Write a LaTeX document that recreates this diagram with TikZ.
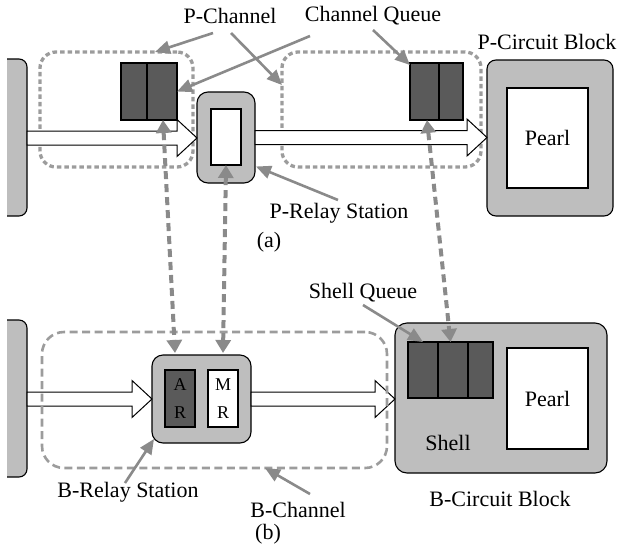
\documentclass[tikz,border=0pt]{standalone}
\usepackage{fontspec}
\setmainfont{Liberation Serif}
\usetikzlibrary{arrows.meta,calc}
\definecolor{blockgray}{HTML}{BEBEBE}
\definecolor{queuedark}{HTML}{5A5A5A}
\definecolor{dashgray}{HTML}{9C9C9C}
\definecolor{arrowgray}{HTML}{8A8A8A}

% hollow block arrow between two points at the height of the first one
\newcommand\fatarrow[2]{%
  \draw[fat] let \p1=(#1), \p2=(#2) in
    (\x1,\y1+7pt) -- (\x2-20pt,\y1+7pt) -- (\x2-20pt,\y1+18.5pt) -- (\x2,\y1)
    -- (\x2-20pt,\y1-18.5pt) -- (\x2-20pt,\y1-7pt) -- (\x1,\y1-7pt) -- cycle;}

\begin{document}
\begin{tikzpicture}[x=1pt,y=-1pt,
  font=\rmfamily\fontsize{22}{24}\selectfont,
  box/.style={draw=black, line width=1.1pt, inner sep=0pt, outer sep=0pt},
  shellbox/.style={box, fill=blockgray, rounded corners=11pt},
  queue/.style={box, fill=queuedark},
  core/.style={box, fill=white},
  pchan/.style={draw=dashgray, line width=3.3pt, dash pattern=on 4.5pt off 3pt,
    rounded corners=16pt, inner sep=0pt, outer sep=0pt},
  bchan/.style={draw=dashgray, line width=2.6pt, dash pattern=on 8pt off 4.5pt,
    rounded corners=22pt, inner sep=0pt, outer sep=0pt},
  fat/.style={draw=black, line width=1pt, fill=white, line join=miter},
  lbl/.style={inner sep=0pt, outer sep=0pt},
  pointer/.style={draw=arrowgray, line width=2.6pt, -{Triangle[length=15pt,width=13pt]}},
  link/.style={draw=arrowgray, line width=4pt, dash pattern=on 8pt off 5pt,
    {Triangle[length=13pt,width=15pt]}-{Triangle[length=13pt,width=15pt]}},
]
\useasboundingbox (0,0) rectangle (618,552);

% ---------------- (a) P-channel view ----------------
\draw[fill=blockgray, line width=1.1pt, rounded corners=8pt]
  (7,59) -- (27,59) -- (27,216) -- (7,216);
\coordinate (pcAout) at (27,138);

\node[pchan, minimum width=153, minimum height=115] (pchA) at (116.5,109.5) {};
\node[pchan, minimum width=199, minimum height=115] (pchB) at (381.5,109.5) {};

\node[shellbox, minimum width=58, minimum height=91] (prs) at (226,137.5) {};
\node[core, minimum width=30, minimum height=56] (prsi) at (226,137) {};

\node[shellbox, rounded corners=9pt, minimum width=126, minimum height=156] (pcb) at (550,138) {};
\node[core, minimum width=81, minimum height=100] (ppearl) at (547.5,138) {Pearl};

\fatarrow{pcAout}{prs.west}
\fatarrow{prs.east}{pcb.west}

\node[queue, minimum width=56, minimum height=57] (pqA) at (149,91.5) {};
\draw[line width=1.1pt] ([xshift=-2pt]pqA.north) -- ([xshift=-2pt]pqA.south);
\node[queue, minimum width=53, minimum height=57] (pqB) at (436.5,91.5) {};
\draw[line width=1.1pt] ([xshift=2.5pt]pqB.north) -- ([xshift=2.5pt]pqB.south);

\node[lbl] (lpch) at (230,16) {P-Channel};
\node[lbl] (lcq) at (373,16) {Channel Queue};
\node[lbl] (lpcb) at (547,42) {P-Circuit Block};
\node[lbl] (lprs) at (339,213) {P-Relay Station};
\node[lbl] (la) at (269,242) {(a)};

\coordinate (pchS1) at (213,33);
\coordinate (pchS2) at (231,33);
\coordinate (cqS1) at (310,36);
\coordinate (cqS2) at (373,30);
\coordinate (prsS) at (338,200);
\draw[pointer] (pchS1) -- ([xshift=38.5pt]pchA.north);
\draw[pointer] (pchS2) -- ([yshift=24.5pt]pchB.west);
\draw[pointer] (cqS1) -- (pqA.east);
\draw[pointer] (cqS2) -- ([yshift=-2pt]pqB.north west);
\draw[pointer] (prsS) -- ([yshift=-29pt,xshift=1pt]prs.east);

% ---------------- (b) B-channel view ----------------
\draw[fill=blockgray, line width=1.1pt, rounded corners=8pt]
  (7,320) -- (27,320) -- (27,477) -- (7,477);
\coordinate (bcAout) at (27,399);

\node[shellbox, minimum width=99, minimum height=88] (brs) at (201.5,399) {};
\node[queue, minimum width=30, minimum height=57, align=center,
  font=\rmfamily\fontsize{18}{28}\selectfont] (bar) at (180,398.5) {A\\R};
\node[core, minimum width=30, minimum height=57, align=center,
  font=\rmfamily\fontsize{18}{28}\selectfont] (bmr) at (223,398.5) {M\\R};

\node[shellbox, rounded corners=12pt, minimum width=212, minimum height=150] (bcb) at (501,398) {};
\node[queue, minimum width=85, minimum height=56] (bsq) at (450.5,370) {};
\draw[line width=1.1pt] ([xshift=-12.5pt]bsq.north) -- ([xshift=-12.5pt]bsq.south);
\draw[line width=1.1pt] ([xshift=17.5pt]bsq.north) -- ([xshift=17.5pt]bsq.south);
\node[core, minimum width=81, minimum height=101] (bpearl) at (547.5,398.5) {Pearl};
\node[lbl] (lshell) at (448,443) {Shell};

\fatarrow{bcAout}{brs.west}
\fatarrow{brs.east}{bcb.west}

\node[bchan, minimum width=345, minimum height=136] (bch) at (214.5,400) {};

\node[lbl] (lsq) at (363,293) {Shell Queue};
\node[lbl] (lbrs) at (128,492) {B-Relay Station};
\node[lbl] (lbch) at (298,510) {B-Channel};
\node[lbl] (lbcb) at (500,499) {B-Circuit Block};
\node[lbl] (lb) at (268,534) {(b)};

\coordinate (sqS) at (363,305);
\coordinate (brsS) at (125,483);
\coordinate (bchS) at (310,494);
\draw[pointer] (sqS) -- ([xshift=15pt]bsq.north west);
\draw[pointer] (brsS) -- ([shift={(2pt,4pt)}]brs.south west);
\draw[pointer] (bchS) -- ([xshift=50.5pt]bch.south);

% ---------------- links between the two views ----------------
\draw[link] ([xshift=14pt]pqA.south) -- ($(brs.north -| bar.north)+(-5,-2)$);
\draw[link] (prsi.south) -- ($(brs.north -| bmr.north)+(0,-2)$);
\draw[link] ([xshift=-9.5pt]pqB.south) -- (bsq.north);
\end{tikzpicture}
\end{document}
